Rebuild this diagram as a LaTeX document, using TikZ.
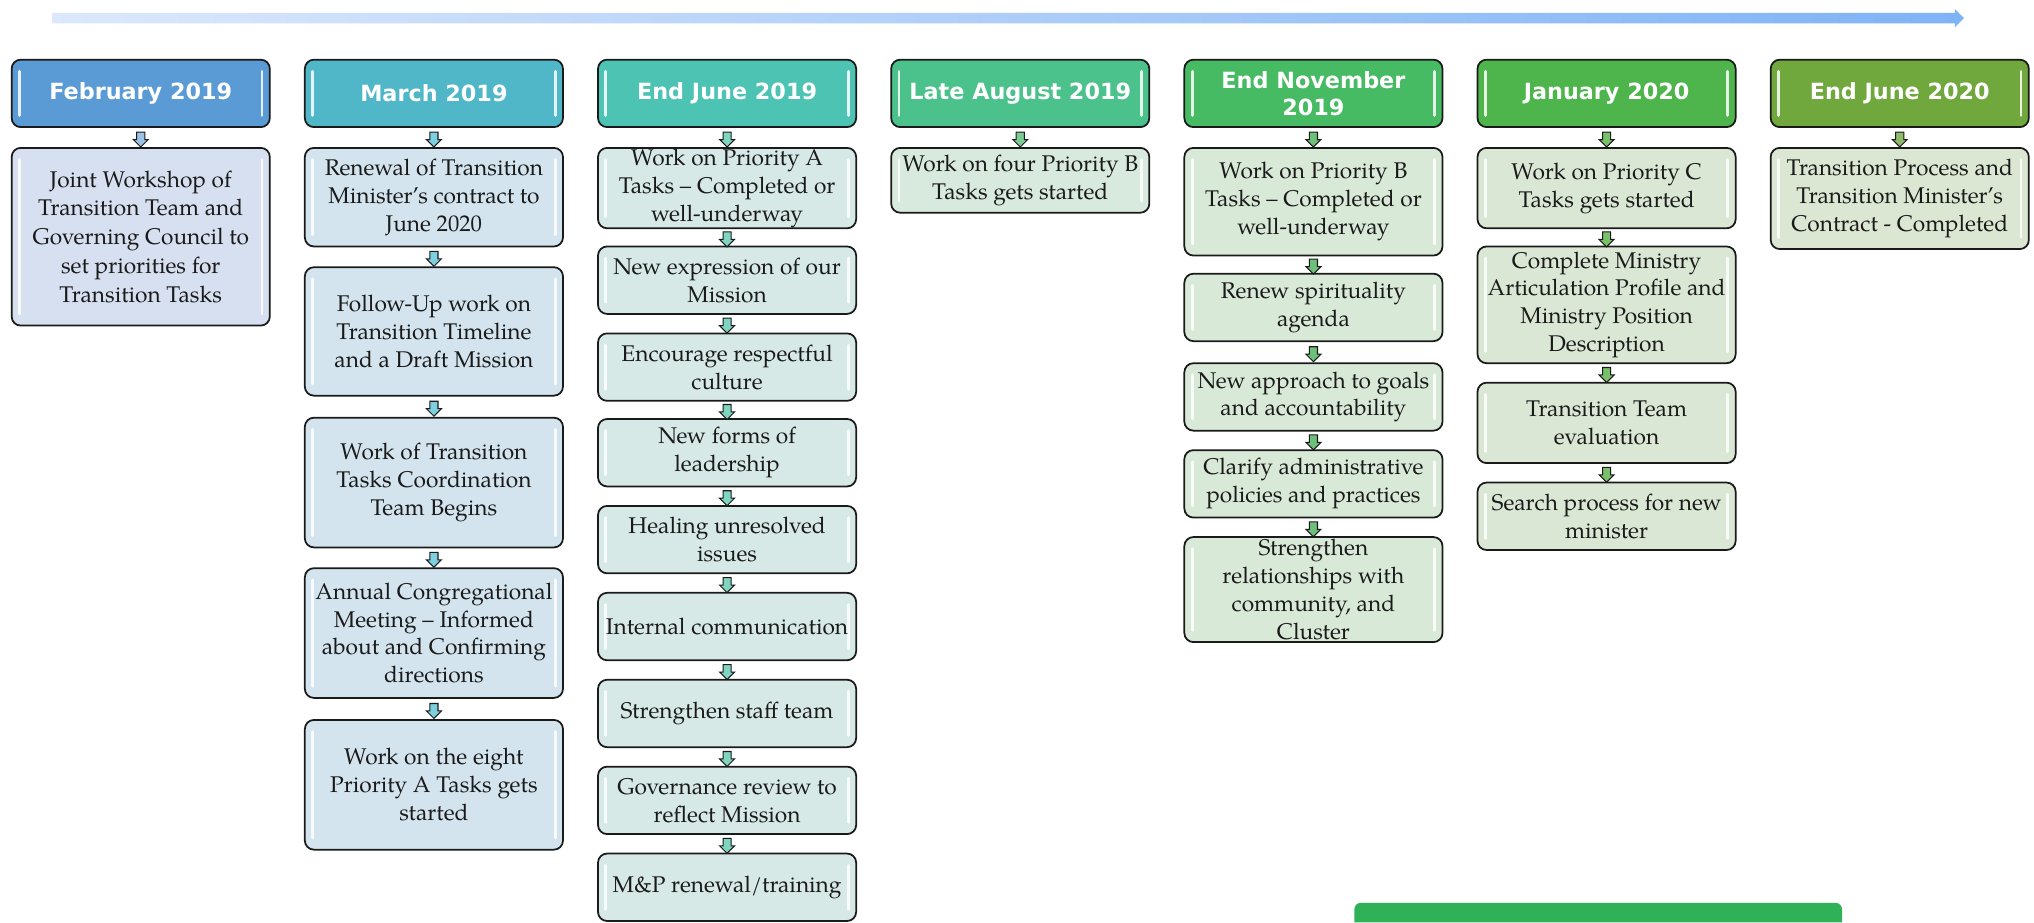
\documentclass[tikz,border=0pt]{standalone}
\usepackage{fontspec}
\setmainfont{TeX Gyre Pagella}
\newfontfamily\hdrfont{DejaVu Sans}
\usetikzlibrary{shapes.arrows}

\definecolor{tlA}{HTML}{DCE8FB}
\definecolor{tlB}{HTML}{7EB3F6}
\definecolor{h1}{HTML}{5B9BD5}
\definecolor{h2}{HTML}{4FB7C8}
\definecolor{h3}{HTML}{4DC4B3}
\definecolor{h4}{HTML}{4BC18C}
\definecolor{h5}{HTML}{47BA64}
\definecolor{h6}{HTML}{4DB54B}
\definecolor{h7}{HTML}{70A83E}
\definecolor{f1}{HTML}{D7E0F0}
\definecolor{f2}{HTML}{D3E4EE}
\definecolor{f3}{HTML}{D6E9E6}
\definecolor{f4}{HTML}{D8E9DD}
\definecolor{f5}{HTML}{D9E9D8}
\definecolor{f6}{HTML}{DAE7D5}
\definecolor{f7}{HTML}{DCE7D3}
\definecolor{a1}{HTML}{9CC3E6}
\definecolor{a2}{HTML}{7ECFE0}
\definecolor{a3}{HTML}{7FD5C0}
\definecolor{a4}{HTML}{7CCB95}
\definecolor{a5}{HTML}{6CC07A}
\definecolor{a6}{HTML}{79C06A}
\definecolor{a7}{HTML}{8FBA6A}
\definecolor{nextgreen}{HTML}{2FB257}
\definecolor{ink}{HTML}{1A1A1A}

\tikzset{
  box/.style={draw=ink, line width=1.35pt, rounded corners=7pt,
    minimum width=199pt, inner xsep=2pt, inner ysep=0pt, align=center,
    text=ink, font=\fontsize{17.5}{21.5}\selectfont,
    path picture={
      \draw[white, line width=2.2pt, line cap=round, opacity=0.85]
        ([xshift=6pt,yshift=-9pt]path picture bounding box.north west) --
        ([xshift=6pt,yshift=9pt]path picture bounding box.south west);
      \draw[white, line width=2.2pt, line cap=round, opacity=0.85]
        ([xshift=-6pt,yshift=-9pt]path picture bounding box.north east) --
        ([xshift=-6pt,yshift=9pt]path picture bounding box.south east);
    }},
  hdr/.style={box, minimum height=52pt, text=white,
    font=\hdrfont\bfseries\fontsize{17.2}{21}\selectfont},
  sarrow/.style={single arrow, draw=ink, line width=0.8pt,
    shape border rotate=270, minimum height=11.5pt, minimum width=11.5pt,
    single arrow head extend=2.5pt, inner sep=2.6pt}
}
\newcommand{\conn}[3]{\path (#1.south) -- node[sarrow, fill=#3]{} (#2.north);}

\begin{document}
\begin{tikzpicture}[x=1pt,y=1pt]
\useasboundingbox (0,0) rectangle (1568,-711);
\fill[white] (0,0) rectangle (1568,-711);

% timeline arrow
\shade[left color=tlA, right color=tlB]
  (40,-10) -- (1507,-10) -- (1507,-7) -- (1514,-14) -- (1507,-21)
  -- (1507,-18) -- (40,-18) -- cycle;

% headers
\node[hdr, fill=h1] (h1) at (108.5,-72) {February 2019};
\node[hdr, fill=h2] (h2) at (334.5,-72) {March 2019};
\node[hdr, fill=h3] (h3) at (560.5,-72) {End June 2019};
\node[hdr, fill=h4] (h4) at (786.5,-72) {Late August 2019};
\node[hdr, fill=h5] (h5) at (1012.5,-72) {End November\\2019};
\node[hdr, fill=h6] (h6) at (1238.5,-72) {January 2020};
\node[hdr, fill=h7] (h7) at (1464.5,-72) {End June 2020};

% column 1
\node[box, fill=f1, minimum height=137pt, font=\fontsize{17.5}{22.2}\selectfont] (c1b1) at (108.5,-182.5)
  {Joint Workshop of\\Transition Team and\\Governing Council to\\set priorities for\\Transition Tasks};

% column 2
\node[box, fill=f2, minimum height=76pt] (c2b1) at (334.5,-152)
  {Renewal of Transition\\Minister’s contract to\\June 2020};
\node[box, fill=f2, minimum height=99pt] (c2b2) at (334.5,-255.5)
  {Follow-Up work on\\Transition Timeline\\and a Draft Mission};
\node[box, fill=f2, minimum height=100pt] (c2b3) at (334.5,-372)
  {Work of Transition\\Tasks Coordination\\Team Begins};
\node[box, fill=f2, minimum height=100pt] (c2b4) at (334.5,-488)
  {Annual Congregational\\Meeting – Informed\\about and Confirming\\directions};
\node[box, fill=f2, minimum height=100pt] (c2b5) at (334.5,-605)
  {Work on the eight\\Priority A Tasks gets\\started};

% column 3
\node[box, fill=f3, minimum height=62pt] (c3b1) at (560.5,-145)
  {Work on Priority A\\Tasks – Completed or\\well-underway};
\node[box, fill=f3, minimum height=52pt] (c3b2) at (560.5,-216)
  {New expression of our\\Mission};
\node[box, fill=f3, minimum height=52pt] (c3b3) at (560.5,-283)
  {Encourage respectful\\culture};
\node[box, fill=f3, minimum height=52pt] (c3b4) at (560.5,-349)
  {New forms of\\leadership};
\node[box, fill=f3, minimum height=52pt] (c3b5) at (560.5,-416)
  {Healing unresolved\\issues};
\node[box, fill=f3, minimum height=52pt] (c3b6) at (560.5,-483)
  {Internal communication};
\node[box, fill=f3, minimum height=52pt] (c3b7) at (560.5,-550)
  {Strengthen staff team};
\node[box, fill=f3, minimum height=52pt] (c3b8) at (560.5,-617)
  {Governance review to\\reflect Mission};
\node[box, fill=f3, minimum height=52pt] (c3b9) at (560.5,-684)
  {M\&P renewal/training};

% column 4
\node[box, fill=f4, minimum height=50pt] (c4b1) at (786.5,-139)
  {Work on four Priority B\\Tasks gets started};

% column 5
\node[box, fill=f5, minimum height=83pt] (c5b1) at (1012.5,-155.5)
  {Work on Priority B\\Tasks – Completed or\\well-underway};
\node[box, fill=f5, minimum height=52pt] (c5b2) at (1012.5,-237)
  {Renew spirituality\\agenda};
\node[box, fill=f5, minimum height=52pt] (c5b3) at (1012.5,-306)
  {New approach to goals\\and accountability};
\node[box, fill=f5, minimum height=52pt] (c5b4) at (1012.5,-373)
  {Clarify administrative\\policies and practices};
\node[box, fill=f5, minimum height=81pt] (c5b5) at (1012.5,-454.5)
  {Strengthen\\relationships with\\community, and\\Cluster};

% column 6
\node[box, fill=f6, minimum height=62pt] (c6b1) at (1238.5,-145)
  {Work on Priority C\\Tasks gets started};
\node[box, fill=f6, minimum height=90pt] (c6b2) at (1238.5,-235)
  {Complete Ministry\\Articulation Profile and\\Ministry Position\\Description};
\node[box, fill=f6, minimum height=62pt] (c6b3) at (1238.5,-326)
  {Transition Team\\evaluation};
\node[box, fill=f6, minimum height=52pt] (c6b4) at (1238.5,-398)
  {Search process for new\\minister};

% column 7
\node[box, fill=f7, minimum height=78pt] (c7b1) at (1464.5,-153)
  {Transition Process and\\Transition Minister’s\\Contract - Completed};

% connectors
\conn{h1}{c1b1}{a1}
\conn{h2}{c2b1}{a2}
\conn{c2b1}{c2b2}{a2}
\conn{c2b2}{c2b3}{a2}
\conn{c2b3}{c2b4}{a2}
\conn{c2b4}{c2b5}{a2}
\conn{h3}{c3b1}{a3}
\conn{c3b1}{c3b2}{a3}
\conn{c3b2}{c3b3}{a3}
\conn{c3b3}{c3b4}{a3}
\conn{c3b4}{c3b5}{a3}
\conn{c3b5}{c3b6}{a3}
\conn{c3b6}{c3b7}{a3}
\conn{c3b7}{c3b8}{a3}
\conn{c3b8}{c3b9}{a3}
\conn{h4}{c4b1}{a4}
\conn{h5}{c5b1}{a5}
\conn{c5b1}{c5b2}{a5}
\conn{c5b2}{c5b3}{a5}
\conn{c5b3}{c5b4}{a5}
\conn{c5b4}{c5b5}{a5}
\conn{h6}{c6b1}{a6}
\conn{c6b1}{c6b2}{a6}
\conn{c6b2}{c6b3}{a6}
\conn{c6b3}{c6b4}{a6}
\conn{h7}{c7b1}{a7}

% cut-off green box at the bottom
\fill[nextgreen] (1044,-711) [rounded corners=5pt] -- (1044,-696) -- (1420,-696)
  [sharp corners] -- (1420,-711) -- cycle;
\end{tikzpicture}
\end{document}
